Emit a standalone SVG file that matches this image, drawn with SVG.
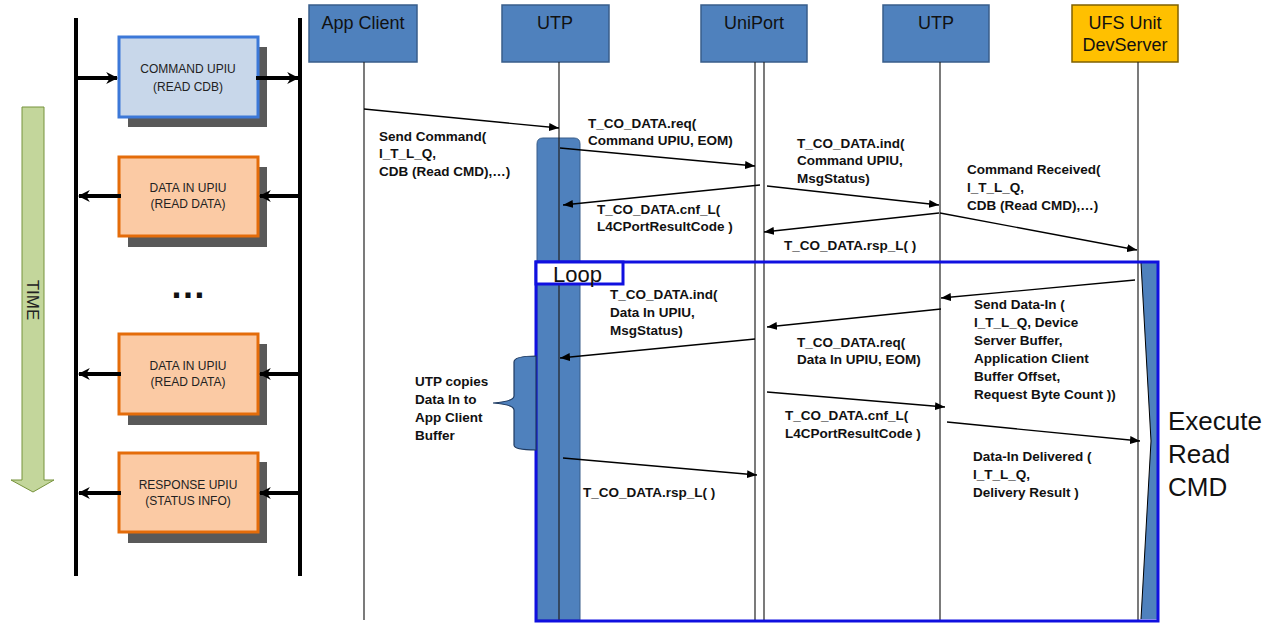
<svg xmlns="http://www.w3.org/2000/svg" width="1273" height="626" viewBox="0 0 1273 626">
<defs>
<marker id="ah" viewBox="0 0 10 8" refX="10" refY="4" markerWidth="10" markerHeight="8" markerUnits="userSpaceOnUse" orient="auto">
<path d="M0,0 L10,4 L0,8 Z" fill="#000"/>
</marker>
<marker id="ahb" viewBox="0 0 10 10" refX="9" refY="5" markerWidth="12" markerHeight="12" markerUnits="userSpaceOnUse" orient="auto">
<path d="M0,0 L10,5 L0,10 L3,5 Z" fill="#000"/>
</marker>
<style>
.hdr{fill:#4f81bd;stroke:#385d8a;stroke-width:1.5}
.hdrt{font-family:"Liberation Sans",Arial,sans-serif;font-size:18px;fill:#111;text-anchor:middle}
.life{stroke:#222;stroke-width:1.2;fill:none}
.msg{stroke:#000;stroke-width:1.3;fill:none;marker-end:url(#ah)}
.lbl{font-family:"Liberation Sans",Arial,sans-serif;font-size:13.5px;font-weight:bold;fill:#111}
.vbar{stroke:#000;stroke-width:4}
.thick{stroke:#000;stroke-width:4;marker-end:url(#ahb)}
.shadow{fill:#595959}
.cmd{fill:#c8d7ea;stroke:#3c78d8;stroke-width:3}
.org{fill:#fbcaa4;stroke:#e46c0a;stroke-width:3}
.bt{font-family:"Liberation Sans",Arial,sans-serif;font-size:12px;fill:#222;text-anchor:middle}
</style>
</defs>
<rect width="1273" height="626" fill="#fff"/>

<!-- left legend -->
<g id="time">
<polygon points="22,107 44,107 44,480 54,480 33,492 11,480 22,480" fill="#c3d69b" stroke="#77933c" stroke-width="1"/>
<text transform="translate(27,300) rotate(90)" font-family="Liberation Sans, Arial, sans-serif" font-size="17" fill="#222" text-anchor="middle">TIME</text>
</g>
<g id="rails">
<line class="vbar" x1="76" y1="18" x2="76" y2="576"/>
<line class="vbar" x1="300" y1="18" x2="300" y2="576"/>
</g>
<g id="cmd-upiu">
<rect class="shadow" x="128" y="47" width="139" height="80"/>
<rect class="cmd" x="119" y="37" width="139" height="80"/>
<text class="bt" x="188" y="73">COMMAND UPIU</text>
<text class="bt" x="188" y="91">(READ CDB)</text>
</g>
<g id="data-upiu-1">
<rect class="shadow" x="128" y="167" width="139" height="80"/>
<rect class="org" x="119" y="157" width="139" height="79"/>
<text class="bt" x="188" y="192">DATA IN UPIU</text>
<text class="bt" x="188" y="208">(READ DATA)</text>
</g>
<g id="dots"><text x="188" y="298" font-family="Liberation Sans, Arial, sans-serif" font-size="36" font-weight="bold" fill="#111" text-anchor="middle">…</text></g>
<g id="data-upiu-2">
<rect class="shadow" x="128" y="344" width="139" height="81"/>
<rect class="org" x="119" y="334" width="139" height="80"/>
<text class="bt" x="188" y="370">DATA IN UPIU</text>
<text class="bt" x="188" y="386">(READ DATA)</text>
</g>
<g id="resp-upiu">
<rect class="shadow" x="128" y="462" width="139" height="81"/>
<rect class="org" x="119" y="453" width="139" height="79"/>
<text class="bt" x="188" y="489">RESPONSE UPIU</text>
<text class="bt" x="188" y="505">(STATUS INFO)</text>
</g>
<g id="legend-arrows">
<line class="thick" x1="77" y1="78" x2="117" y2="78"/>
<line class="thick" x1="256" y1="78" x2="298" y2="78"/>
<line class="thick" x1="121" y1="196" x2="79" y2="196"/>
<line class="thick" x1="299" y1="196" x2="260" y2="196"/>
<line class="thick" x1="121" y1="374" x2="79" y2="374"/>
<line class="thick" x1="299" y1="374" x2="260" y2="374"/>
<line class="thick" x1="121" y1="493" x2="79" y2="493"/>
<line class="thick" x1="299" y1="493" x2="260" y2="493"/>
</g>

<!-- participants -->
<g id="app-client">
<rect class="hdr" x="309" y="5" width="108" height="57"/>
<text class="hdrt" x="363" y="29">App Client</text>
<line class="life" x1="364" y1="62" x2="364" y2="620"/>
</g>
<g id="utp-host">
<rect class="hdr" x="502" y="5" width="107" height="57"/>
<text class="hdrt" x="555" y="29">UTP</text>
<path d="M537,620 L537,144 Q537,138 543,138 L574,138 Q580,138 580,144 L580,620 Z" fill="#4f81bd" stroke="#385d8a" stroke-width="1"/>
<line class="life" x1="559" y1="62" x2="559" y2="620"/>
</g>
<g id="uniport">
<rect class="hdr" x="701" y="5" width="106" height="57"/>
<text class="hdrt" x="754" y="29">UniPort</text>
<line class="life" x1="755" y1="62" x2="755" y2="621"/>
<line class="life" x1="764" y1="62" x2="764" y2="621"/>
</g>
<g id="utp-dev">
<rect class="hdr" x="883" y="5" width="106" height="57"/>
<text class="hdrt" x="936" y="29">UTP</text>
<line class="life" x1="940" y1="62" x2="940" y2="621"/>
</g>
<g id="ufs-dev">
<rect x="1072" y="5" width="106" height="57" fill="#ffc000" stroke="#7f6000" stroke-width="1.5"/>
<text class="hdrt" x="1125" y="29">UFS Unit</text>
<text class="hdrt" x="1125" y="51">DevServer</text>
<line class="life" x1="1138" y1="62" x2="1138" y2="621"/>
<polygon points="1141,263 1157,263 1157,619 1141,619 1151,441" fill="#4f81bd"/>
<polyline points="1141,263 1151,441 1141,619" fill="none" stroke="#000" stroke-width="1"/>
</g>

<!-- loop frame -->
<g id="loop">
<rect x="536" y="262" width="622" height="359" fill="none" stroke="#1010e0" stroke-width="3"/>
<rect x="536" y="262" width="87" height="22" fill="#fff" stroke="#1010e0" stroke-width="3"/>
<text x="553" y="282" font-family="Liberation Sans, Arial, sans-serif" font-size="22" fill="#111">Loop</text>
</g>

<g id="note">
<path d="M536,356 C524,356 514,357 514,362 L514,396 C514,400 506,402 493,403 C506,404 514,406 514,410 L514,445 C514,449 524,450 536,450 Z" fill="#4f81bd" stroke="#1f3a60" stroke-width="1.2"/>
<text class="lbl" x="415" y="386">UTP copies</text>
<text class="lbl" x="415" y="404">Data In to</text>
<text class="lbl" x="415" y="422">App Client</text>
<text class="lbl" x="415" y="440">Buffer</text>
</g>

<g id="execute">
<text x="1168" y="430" font-family="Liberation Sans, Arial, sans-serif" font-size="26" fill="#111">Execute</text>
<text x="1168" y="463" font-family="Liberation Sans, Arial, sans-serif" font-size="26" fill="#111">Read</text>
<text x="1168" y="496" font-family="Liberation Sans, Arial, sans-serif" font-size="26" fill="#111">CMD</text>
</g>

<!-- connectors -->
<g id="connectors">
<line class="msg" x1="364" y1="109" x2="559" y2="128"/>
<line class="msg" x1="560" y1="148" x2="755" y2="166"/>
<line class="msg" x1="767" y1="186" x2="939" y2="205"/>
<line class="msg" x1="760" y1="185" x2="563" y2="205"/>
<line class="msg" x1="939" y1="213" x2="764" y2="232"/>
<line class="msg" x1="940" y1="213" x2="1137" y2="250"/>
<line class="msg" x1="1135" y1="280" x2="941" y2="298"/>
<line class="msg" x1="941" y1="309" x2="767" y2="327"/>
<line class="msg" x1="755" y1="339" x2="560" y2="358"/>
<line class="msg" x1="767" y1="392" x2="945" y2="407"/>
<line class="msg" x1="947" y1="422" x2="1140" y2="441"/>
<line class="msg" x1="563" y1="458" x2="757" y2="475"/>
</g>

<g id="labels">
<text class="lbl" x="379" y="141">Send Command(</text>
<text class="lbl" x="379" y="158">I_T_L_Q,</text>
<text class="lbl" x="379" y="176">CDB (Read CMD),…)</text>

<text class="lbl" x="588" y="128">T_CO_DATA.req(</text>
<text class="lbl" x="588" y="145">Command UPIU, EOM)</text>

<text class="lbl" x="797" y="148">T_CO_DATA.ind(</text>
<text class="lbl" x="797" y="165">Command UPIU,</text>
<text class="lbl" x="797" y="183">MsgStatus)</text>

<text class="lbl" x="597" y="214">T_CO_DATA.cnf_L(</text>
<text class="lbl" x="597" y="231">L4CPortResultCode )</text>

<text class="lbl" x="784" y="250">T_CO_DATA.rsp_L( )</text>

<text class="lbl" x="967" y="174">Command Received(</text>
<text class="lbl" x="967" y="192">I_T_L_Q,</text>
<text class="lbl" x="967" y="210">CDB (Read CMD),…)</text>

<text class="lbl" x="974" y="309">Send Data-In (</text>
<text class="lbl" x="974" y="327">I_T_L_Q, Device</text>
<text class="lbl" x="974" y="345">Server Buffer,</text>
<text class="lbl" x="974" y="363">Application Client</text>
<text class="lbl" x="974" y="381">Buffer Offset,</text>
<text class="lbl" x="974" y="399">Request Byte Count ))</text>

<text class="lbl" x="797" y="347">T_CO_DATA.req(</text>
<text class="lbl" x="797" y="364">Data In UPIU, EOM)</text>

<text class="lbl" x="610" y="299">T_CO_DATA.ind(</text>
<text class="lbl" x="610" y="317">Data In UPIU,</text>
<text class="lbl" x="610" y="335">MsgStatus)</text>

<text class="lbl" x="785" y="420">T_CO_DATA.cnf_L(</text>
<text class="lbl" x="785" y="438">L4CPortResultCode )</text>

<text class="lbl" x="973" y="461">Data-In Delivered (</text>
<text class="lbl" x="973" y="479">I_T_L_Q,</text>
<text class="lbl" x="973" y="497">Delivery Result )</text>

<text class="lbl" x="583" y="497">T_CO_DATA.rsp_L( )</text>
</g>
</svg>
